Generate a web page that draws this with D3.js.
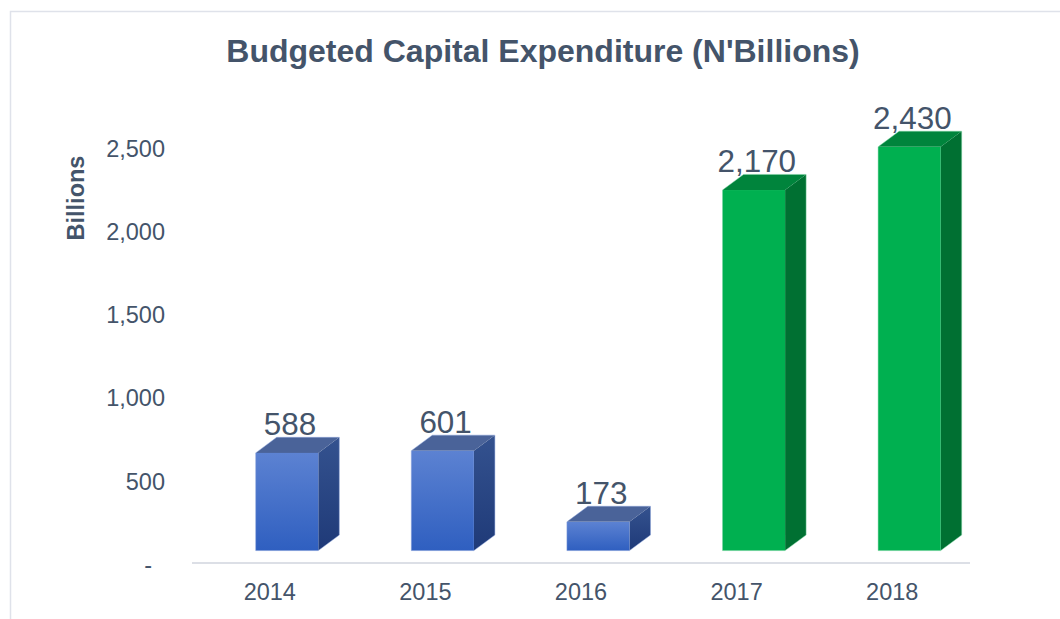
<!DOCTYPE html>
<html><head><meta charset="utf-8">
<script src="https://cdn.jsdelivr.net/npm/d3@7"></script>
<style>
body{margin:0;background:#fff;}
text{font-family:"Liberation Sans",Arial,sans-serif;}
</style></head>
<body><svg id="c" width="1060" height="619"></svg>
<script>
const categories = ["2014","2015","2016","2017","2018"];
const values = [588, 601, 173, 2170, 2430];
const seriesGroup = ["blue","blue","blue","green","green"];
const tickValues = [0, 500, 1000, 1500, 2000, 2500];
const titleText = "Budgeted Capital Expenditure (N'Billions)";
const yTitle = "Billions";

const svg = d3.select("#c");
const ink = "#44546a";

// frame
svg.append("path").attr("d","M10.5,619 V11.5 H1060").attr("fill","none")
  .attr("stroke","#dfe2ea").attr("stroke-width",1.5);

const x = d3.scaleBand().domain(categories).range([192, 970]).paddingInner(0).paddingOuter(0);
const y = d3.scaleLinear().domain([0, 2500]).range([564.1, 148.7]);

const defs = svg.append("defs");
const gFront = defs.append("linearGradient").attr("id","bfront").attr("x1",0).attr("y1",0).attr("x2",0).attr("y2",1);
gFront.append("stop").attr("offset","0%").attr("stop-color","#5c82d2");
gFront.append("stop").attr("offset","100%").attr("stop-color","#2f5fc0");
const gSide = defs.append("linearGradient").attr("id","bside").attr("x1",0).attr("y1",0).attr("x2",0).attr("y2",1);
gSide.append("stop").attr("offset","0%").attr("stop-color","#34528f");
gSide.append("stop").attr("offset","100%").attr("stop-color","#1f3a78");

const colors = {
  blue:  {front:"url(#bfront)", top:"#4a6399", side:"url(#bside)", edge:"#8aa3dc"},
  green: {front:"#00b050", top:"#00843c", side:"#007032", edge:"#7fd6a4"}
};

// axis line
svg.append("line").attr("x1",x.range()[0]).attr("x2",x.range()[1])
  .attr("y1",y(0)-1).attr("y2",y(0)-1).attr("stroke","#dcdfe6").attr("stroke-width",2);

// y axis labels
const yAxis = d3.axisLeft(y).tickValues(tickValues).tickSize(0).tickPadding(0)
  .tickFormat(d => d === 0 ? "-" : d3.format(",")(d));
const ya = svg.append("g").attr("transform","translate(165,0)").call(yAxis);
ya.select(".domain").remove();
ya.selectAll("text").attr("fill",ink).style("font-size","23.5px")
  .attr("dx", d => d === 0 ? -13 : 0).attr("dy","0.34em");

// x axis labels
const xAxis = d3.axisBottom(x).tickSize(0).tickPadding(0);
const xa = svg.append("g").attr("transform",`translate(0,${y(0)})`).call(xAxis);
xa.select(".domain").remove();
xa.selectAll("text").attr("fill",ink).style("font-size","23.5px").attr("y",36).attr("dy",0);

// 3D bars
const floorShift = 13.5, dx = 21, dy = 15.6, offX = 63.7, bw = 62.6;
const bars = svg.append("g").selectAll("g").data(categories.map((c,i)=>({c, v:values[i], g:seriesGroup[i]})))
  .join("g");
bars.each(function(d){
  const g = d3.select(this);
  const x0 = x(d.c) + offX, x1 = x0 + bw;
  const yb = y(0) - floorShift, yt = y(d.v) - floorShift;
  const col = colors[d.g];
  g.append("path").attr("d",`M${x1},${yb} L${x1+dx},${yb-dy} L${x1+dx},${yt-dy} L${x1},${yt} Z`)
    .attr("fill",col.side);
  g.append("path").attr("d",`M${x0},${yt} L${x0+dx},${yt-dy} L${x1+dx},${yt-dy} L${x1},${yt} Z`)
    .attr("fill",col.top);
  g.append("rect").attr("x",x0).attr("y",yt).attr("width",bw).attr("height",yb-yt)
    .attr("fill",col.front);
  g.append("path").attr("d",`M${x0},${yb} V${yt} L${x0+dx},${yt-dy} H${x1+dx} V${yb-dy} L${x1},${yb} Z`)
    .attr("fill","none").attr("stroke",col.edge).attr("stroke-width",0.8).attr("stroke-opacity",0.6);
  g.append("text").attr("x", x0 + bw/2 + 3).attr("y", yt - dy - 2)
    .attr("text-anchor","middle").attr("fill",ink).style("font-size","31.4px")
    .text(d3.format(",")(d.v));
});

// title
svg.append("text").attr("x",543).attr("y",61.5).attr("text-anchor","middle")
  .attr("fill",ink).style("font-size","32px").style("font-weight","bold").text(titleText);

// y title
svg.append("text").attr("transform","translate(84,198) rotate(-90)").attr("text-anchor","middle")
  .attr("fill",ink).style("font-size","23.5px").style("font-weight","bold").text(yTitle);
</script></body></html>
